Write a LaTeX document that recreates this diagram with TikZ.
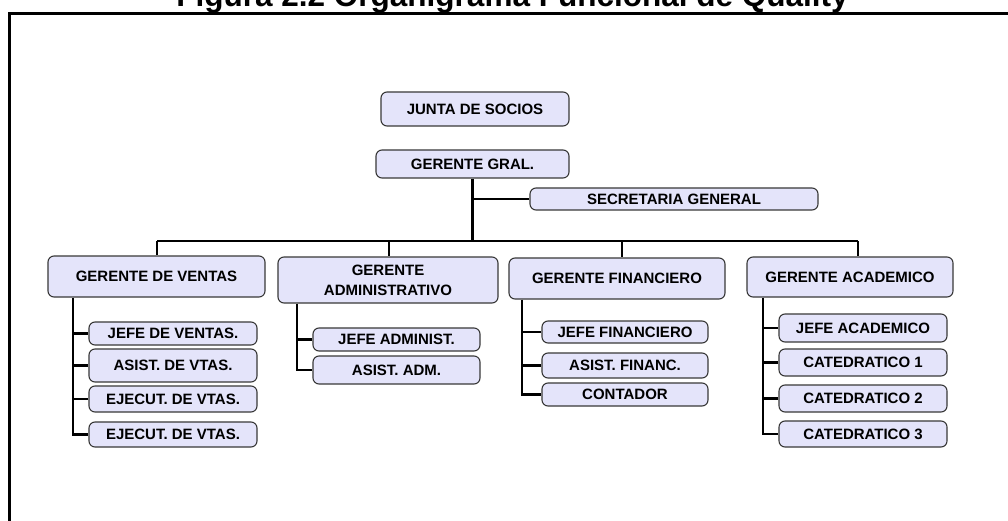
\documentclass[tikz,border=0pt]{standalone}
\usepackage{fontspec}
\setmainfont{Liberation Sans}
\begin{document}
\begin{tikzpicture}[x=1pt,y=-1pt,
  orgbox/.style={draw=black!78, fill=boxfill, line width=1.1pt, rounded corners=6pt,
    inner sep=0pt, align=center, font=\bfseries\fontsize{15}{20}\selectfont},
  conn/.style={line width=2.7pt, black},
  frameline/.style={line width=2.7pt, black}]
\definecolor{boxfill}{RGB}{228,228,250}
\useasboundingbox (0,0) rectangle (1008,521);

% title and frame
\node[anchor=base, font=\bfseries\fontsize{31.5}{36}\selectfont] (title) at (512.5,7) {Figura 2.2 Organigrama Funcional de Quality};
\draw[frameline] (1010,13.5) -- (9.7,13.5) -- (9.7,523);

% top levels
\node[orgbox, minimum width=188, minimum height=34] (junta) at (475,109) {JUNTA DE SOCIOS};
\node[orgbox, minimum width=193, minimum height=28] (gral) at (472.5,164) {GERENTE GRAL.};
\node[orgbox, minimum width=288, minimum height=22] (secre) at (674,199) {SECRETARIA GENERAL};

% managers
\node[orgbox, minimum width=217, minimum height=41] (ventas) at (156.5,276.5) {GERENTE DE VENTAS};
\node[orgbox, minimum width=220, minimum height=46] (adm) at (388,280) {GERENTE\\ADMINISTRATIVO};
\node[orgbox, minimum width=216, minimum height=41] (fin) at (617,278.5) {GERENTE FINANCIERO};
\node[orgbox, minimum width=206, minimum height=40] (acad) at (850,277) {GERENTE ACADEMICO};

% sales staff
\node[orgbox, minimum width=168, minimum height=23] (v1) at (173,333.5) {JEFE DE VENTAS.};
\node[orgbox, minimum width=168, minimum height=33] (v2) at (173,365.5) {ASIST. DE VTAS.};
\node[orgbox, minimum width=168, minimum height=26] (v3) at (173,399) {EJECUT. DE VTAS.};
\node[orgbox, minimum width=168, minimum height=25] (v4) at (173,434.5) {EJECUT. DE VTAS.};

% administration staff
\node[orgbox, minimum width=167, minimum height=23] (a1) at (396.5,339.5) {JEFE ADMINIST.};
\node[orgbox, minimum width=167, minimum height=28] (a2) at (396.5,370) {ASIST. ADM.};

% finance staff
\node[orgbox, minimum width=166, minimum height=22] (f1) at (625,332) {JEFE FINANCIERO};
\node[orgbox, minimum width=166, minimum height=25] (f2) at (625,365.5) {ASIST. FINANC.};
\node[orgbox, minimum width=166, minimum height=23] (f3) at (625,394.5) {CONTADOR};

% academic staff
\node[orgbox, minimum width=168, minimum height=28] (c1) at (863,328) {JEFE ACADEMICO};
\node[orgbox, minimum width=168, minimum height=27] (c2) at (863,362.5) {CATEDRATICO 1};
\node[orgbox, minimum width=168, minimum height=27] (c3) at (863,398.5) {CATEDRATICO 2};
\node[orgbox, minimum width=168, minimum height=26] (c4) at (863,434) {CATEDRATICO 3};

% branch points
\coordinate (dV) at (157,241);
\coordinate (dA) at (389,241);
\coordinate (dF) at (622,241);
\coordinate (dC) at (858,241);
\coordinate (vx) at (73,0);
\coordinate (ax) at (297,0);
\coordinate (fx) at (522,0);
\coordinate (cx) at (763,0);

% general manager links
\draw[conn] (gral.south) -- (gral.south |- dV);
\draw[conn] (gral.south |- secre.west) -- (secre.west);
\draw[conn] (dV) -- (dC);
\draw[conn] (dV) -- (dV |- ventas.north);
\draw[conn] (dA) -- (dA |- adm.north);
\draw[conn] (dF) -- (dF |- fin.north);
\draw[conn] (dC) -- (dC |- acad.north);

% sales links
\draw[conn] (vx |- ventas.south) |- (v4.west);
\draw[conn] (vx |- v1.west) -- (v1.west);
\draw[conn] (vx |- v2.west) -- (v2.west);
\draw[conn] (vx |- v3.west) -- (v3.west);

% administration links
\draw[conn] (ax |- adm.south) |- (a2.west);
\draw[conn] (ax |- a1.west) -- (a1.west);

% finance links
\draw[conn] (fx |- fin.south) |- (f3.west);
\draw[conn] (fx |- f1.west) -- (f1.west);
\draw[conn] (fx |- f2.west) -- (f2.west);

% academic links
\draw[conn] (cx |- acad.south) |- (c4.west);
\draw[conn] (cx |- c1.west) -- (c1.west);
\draw[conn] (cx |- c2.west) -- (c2.west);
\draw[conn] (cx |- c3.west) -- (c3.west);
\end{tikzpicture}
\end{document}
